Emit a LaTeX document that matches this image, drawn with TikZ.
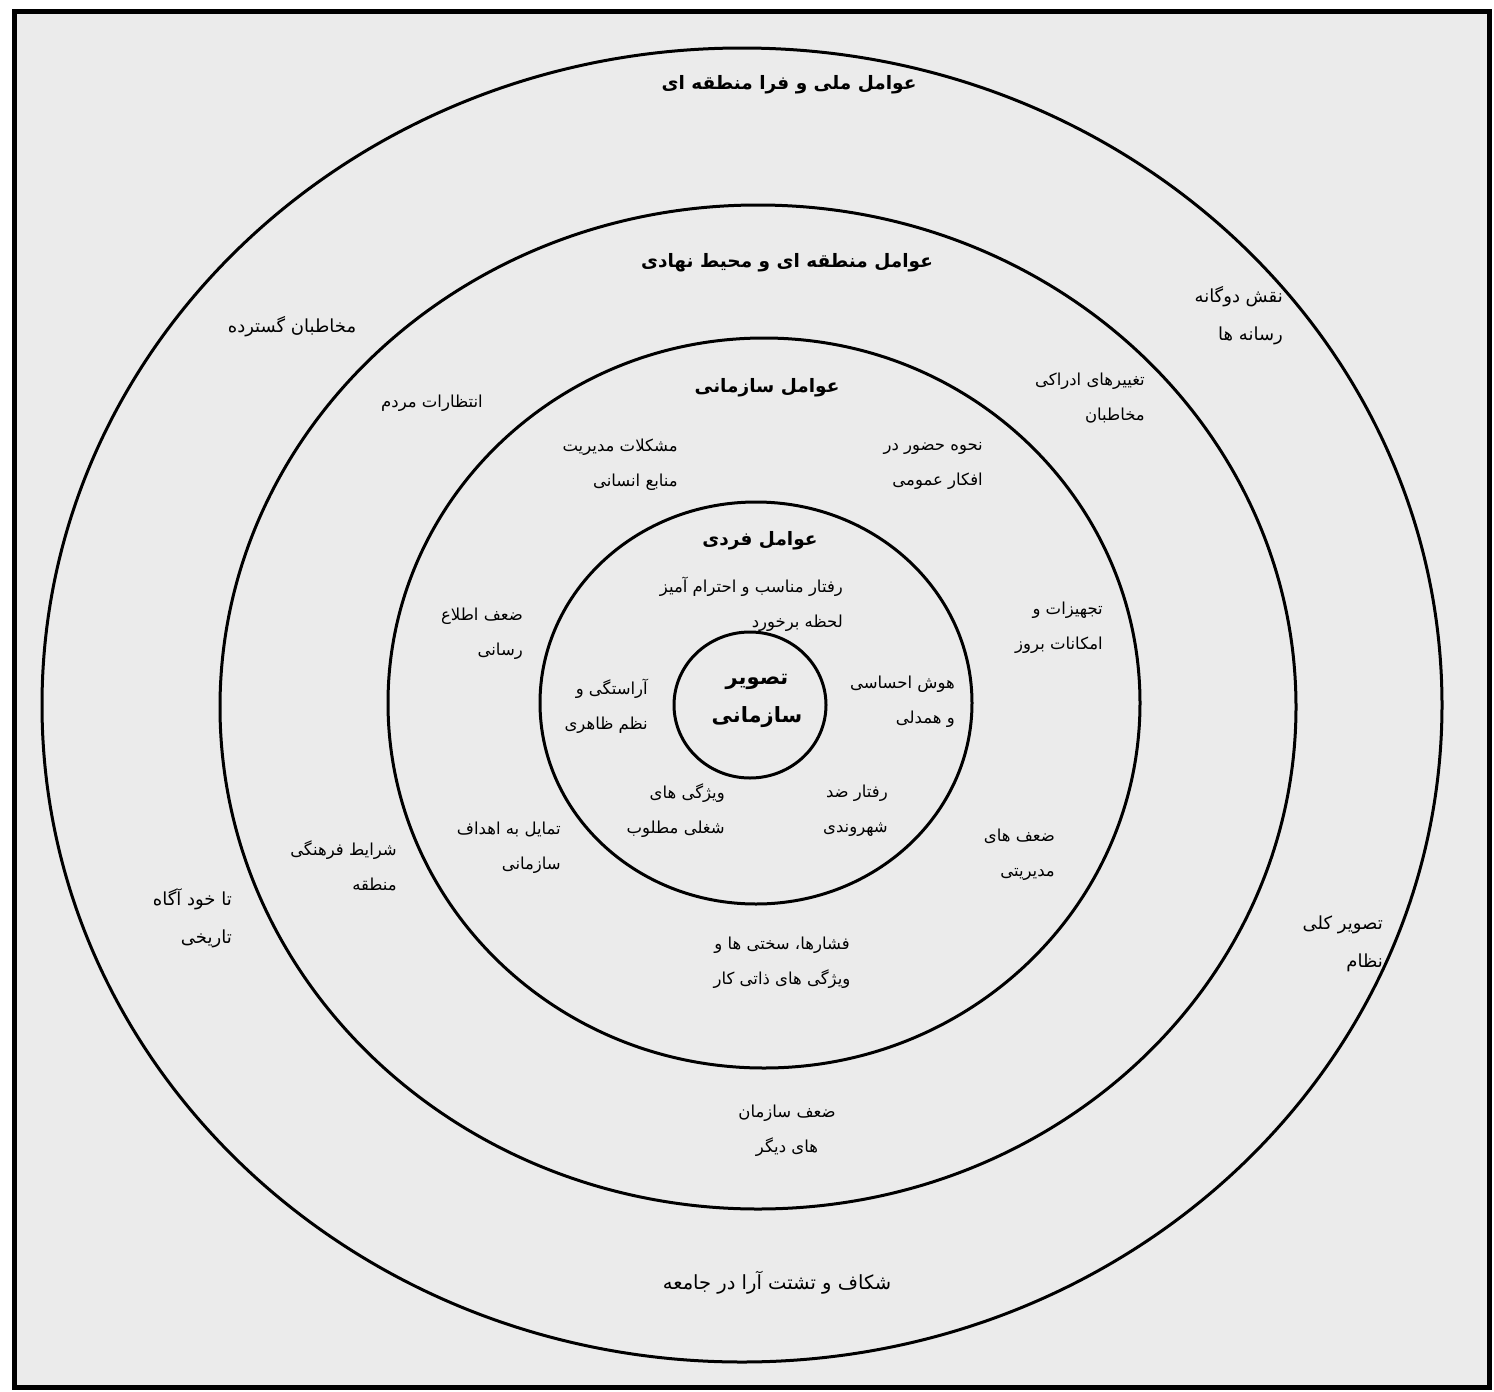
\documentclass[tikz,border=0pt]{standalone}
\usepackage{fontspec}
\newfontfamily\farsifont[Script=Arabic]{DejaVu Sans}
\TeXXeTstate=1
\newcommand{\fa}[1]{\beginR #1\endR}

\begin{document}
\begin{tikzpicture}[x=1pt, y=-1pt,
		ring/.style={draw=black, line width=3pt},
		lbl/.style={font=\farsifont\fontsize{16.5}{35}\selectfont, align=right, inner sep=0pt},
		lblbig/.style={lbl, font=\farsifont\fontsize{18}{38}\selectfont},
		ttl/.style={font=\farsifont\bfseries\fontsize{18.5}{30}\selectfont, align=center, inner sep=0pt},
		core/.style={font=\farsifont\bfseries\fontsize{21}{38}\selectfont, align=center, inner sep=0pt}]

	\useasboundingbox (0,0) rectangle (1494,1392);
	\fill[white] (0,0) rectangle (1494,1392);
	\draw[line width=5pt, fill=black!8] (14,11) rectangle (1489,1387);

	% rings, from outside in
	\coordinate (cNat) at (742,705);
	\coordinate (cReg) at (758,707);
	\coordinate (cOrg) at (764,703);
	\coordinate (cInd) at (756,703);
	\coordinate (cImg) at (750,705);

	\draw[ring] (cNat) ellipse [x radius=700pt, y radius=657pt];
	\draw[ring] (cReg) ellipse [x radius=538pt, y radius=502pt];
	\draw[ring] (cOrg) ellipse [x radius=376pt, y radius=365pt];
	\draw[ring] (cInd) ellipse [x radius=216pt, y radius=201pt];
	\draw[ring] (cImg) ellipse [x radius=76pt, y radius=73pt];

	% titles
	\node[ttl] (tNat) at (789,85) {\fa{عوامل ملی و فرا منطقه ای}};
	\node[ttl] (tReg) at (787,263) {\fa{عوامل منطقه ای و محیط نهادی}};
	\node[ttl] (tOrg) at (767,388) {\fa{عوامل سازمانی}};
	\node[ttl] (tInd) at (760,541) {\fa{عوامل فردی}};
	\node[core] (tImg) at (757,701) {\fa{تصویر}\\\fa{سازمانی}};

	% outer ring
	\node[lblbig] (audience) at (292,327) {\fa{مخاطبان گسترده}};
	\node[lblbig, anchor=east] (media) at (1283,316) {\fa{نقش دوگانه}\\\fa{رسانه ها}};
	\node[lblbig, anchor=east] (history) at (232,918) {\fa{تا خود آگاه}\\\fa{تاریخی}};
	\node[lblbig, anchor=east] (system) at (1383,944) {\fa{تصویر کلی}\\\fa{نظام}};
	\node[lblbig, font=\farsifont\fontsize{19.5}{38}\selectfont] (rift) at (777,1283) {\fa{شکاف و تشتت آرا در جامعه}};

	% regional ring
	\node[lbl] (expect) at (432,403) {\fa{انتظارات مردم}};
	\node[lbl, anchor=east] (percept) at (1145,398) {\fa{تغییرهای ادراکی}\\\fa{مخاطبان}};
	\node[lbl, anchor=east] (equip) at (1103,628) {\fa{تجهیزات و}\\\fa{امکانات بروز}};
	\node[lbl, anchor=east] (mgmtweak) at (1055,855) {\fa{ضعف های}\\\fa{مدیریتی}};
	\node[lbl, anchor=east] (culture) at (397,866) {\fa{شرایط فرهنگی}\\\fa{منطقه}};
	\node[lbl, align=center] (others) at (787,1131) {\fa{ضعف سازمان}\\\fa{های دیگر}};

	% organisational ring
	\node[lbl, anchor=east] (hrm) at (678,465) {\fa{مشکلات مدیریت}\\\fa{منابع انسانی}};
	\node[lbl, anchor=east] (presence) at (983,466) {\fa{نحوه حضور در}\\\fa{افکار عمومی}};
	\node[lbl, anchor=east] (inform) at (523,634) {\fa{ضعف اطلاع}\\\fa{رسانی}};
	\node[lbl, anchor=east] (goals) at (561,848) {\fa{تمایل به اهداف}\\\fa{سازمانی}};
	\node[lbl, align=center] (pressure) at (782,963) {\fa{فشارها، سختی ها و}\\\fa{ویژگی های ذاتی کار}};

	% individual ring
	\node[lbl, anchor=east] (respect) at (843,604) {\fa{رفتار مناسب و احترام آمیز}\\\fa{لحظه برخورد}};
	\node[lbl, anchor=east] (appear) at (648,706) {\fa{آراستگی و}\\\fa{نظم ظاهری}};
	\node[lbl, anchor=east] (empathy) at (955,702) {\fa{هوش احساسی}\\\fa{و همدلی}};
	\node[lbl, anchor=east] (jobtrait) at (725,811) {\fa{ویژگی های}\\\fa{شغلی مطلوب}};
	\node[lbl, anchor=east] (anticiv) at (888,811) {\fa{رفتار ضد}\\\fa{شهروندی}};

\end{tikzpicture}
\end{document}
